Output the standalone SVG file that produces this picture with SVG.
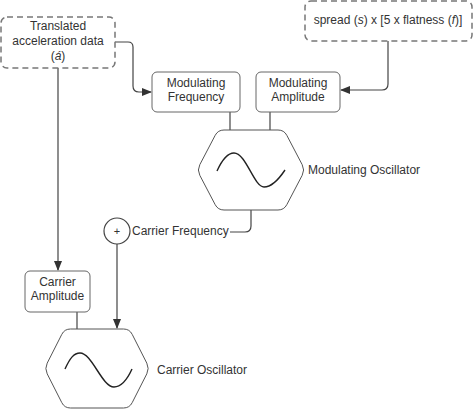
<svg xmlns="http://www.w3.org/2000/svg" width="474" height="412" viewBox="0 0 474 412">
<style>
text{font-family:"Liberation Sans",Arial,sans-serif;font-size:12px;fill:#333}
.c{text-anchor:middle}
.box{fill:#fff;stroke:#666;stroke-width:1}
.dash{fill:#fff;stroke:#777;stroke-width:1.5;stroke-dasharray:6 4}
.hex{fill:#fff;stroke:#555;stroke-width:1}
.wave{fill:none;stroke:#222;stroke-width:1.4}
.ln{fill:none;stroke:#444;stroke-width:1.2}
</style>
<defs>
<marker id="ah" markerWidth="10" markerHeight="8" refX="9" refY="4" orient="auto" markerUnits="userSpaceOnUse">
<path d="M0,0 L10,4 L0,8 Z" fill="#333"/>
</marker>
</defs>
<rect width="474" height="412" fill="#fff"/>
<g id="connectors">
<path class="ln" d="M115,42 H128 Q133,42 133,47 V86 Q133,92 139,92 H151" marker-end="url(#ah)"/>
<path class="ln" d="M388,41 V84 Q388,90 382,90 H341" marker-end="url(#ah)"/>
<path class="ln" d="M58,68 V270" marker-end="url(#ah)"/>
<path class="ln" d="M230,112 V130"/>
<path class="ln" d="M270,112 V130"/>
<path class="ln" d="M251,210 V226 Q251,232 245,232 H230"/>
<path class="ln" d="M117,244 V328" marker-end="url(#ah)"/>
<path class="ln" d="M77,312 V329"/>
</g>
<g id="accel">
<rect class="dash" x="1" y="17" width="114" height="51" rx="6"/>
<text class="c" x="58" y="30">Translated</text>
<text class="c" x="58" y="45">acceleration data</text>
<text class="c" x="58" y="60">(<tspan font-style="italic">á</tspan>)</text>
</g>
<g id="spread">
<rect class="dash" x="305" y="1" width="167" height="40" rx="6"/>
<text class="c" x="388" y="24">spread (<tspan font-style="italic">s</tspan>) x [5 x flatness (<tspan font-style="italic">f</tspan>)]</text>
</g>
<g id="modfreq">
<rect class="box" x="152" y="72" width="88" height="40" rx="5"/>
<text class="c" x="196" y="87">Modulating</text>
<text class="c" x="196" y="101">Frequency</text>
</g>
<g id="modamp">
<rect class="box" x="256" y="72" width="84" height="40" rx="5"/>
<text class="c" x="298" y="87">Modulating</text>
<text class="c" x="298" y="101">Amplitude</text>
</g>
<g id="modosc">
<path class="hex" d="M224,130 L278,130 Q284,130 286.8,135.3 L302.2,164.7 Q305,170 302.2,175.3 L286.8,204.7 Q284,210 278,210 L224,210 Q218,210 215.2,204.7 L199.8,175.3 Q197,170 199.8,164.7 L215.2,135.3 Q218,130 224,130 Z"/>
<path class="wave" d="M217,171 C222,160 227,153 234,153 C246,153 254,187 264,187 C272,187 279,179 285,170"/>
<text x="308" y="173.5">Modulating Oscillator</text>
</g>
<g id="sum">
<circle cx="117" cy="231" r="13" fill="#fff" stroke="#444" stroke-width="1.2"/>
<text class="c" x="117" y="235" style="font-size:11px">+</text>
<text x="132" y="235">Carrier Frequency</text>
</g>
<g id="caramp">
<rect class="box" x="25" y="271" width="65" height="41" rx="5"/>
<text class="c" x="57.5" y="286">Carrier</text>
<text class="c" x="57.5" y="300">Amplitude</text>
</g>
<g id="carosc">
<path class="hex" d="M70.5,329 L123.5,329 Q129.5,329 132.2,334.35 L146.8,363.15 Q149.5,368.5 146.8,373.85 L132.2,402.65 Q129.5,408 123.5,408 L70.5,408 Q64.5,408 61.8,402.65 L47.2,373.85 Q44.5,368.5 47.2,363.15 L61.8,334.35 Q64.5,329 70.5,329 Z"/>
<path class="wave" d="M65,369 C70,358 74,353 80,353 C92,353 102,387 114,387 C121,387 127,380 132,369"/>
<text x="157" y="374">Carrier Oscillator</text>
</g>
</svg>
